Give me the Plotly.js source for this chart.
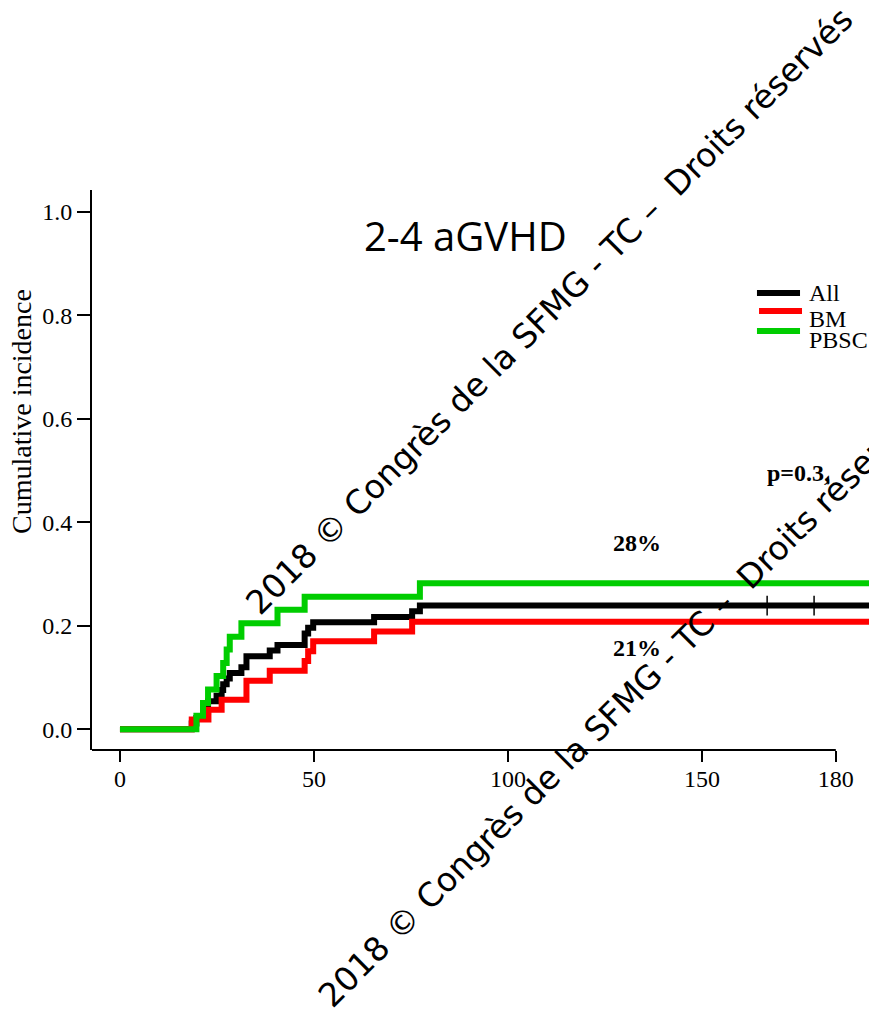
<!DOCTYPE html>
<html>
<head>
<meta charset="utf-8">
<script src="https://cdn.plot.ly/plotly-3.0.1.min.js"></script>
<style>
html, body { margin:0; padding:0; overflow:hidden; background:#fff; }
#chart { width:920px; height:1010px; }
</style>
</head>
<body>
<div id="chart"></div>
<script>
// ---- data ----
const seriesNames = ["All", "BM", "PBSC"];
const seriesColors = ["#000000", "#ff0000", "#00cd00"];

const daysAll = [0, 18.5, 19.7, 21.4, 22.7, 24.9, 26.2, 26.6, 27.5, 28.3, 31.3, 32.6, 38.6, 40.6, 47.6, 48.5, 49.8, 65.5, 75.3, 77.3, 195];
const ciAll   = [0, 0.011, 0.022, 0.033, 0.054, 0.065, 0.076, 0.087, 0.098, 0.109, 0.120, 0.141, 0.152, 0.163, 0.185, 0.196, 0.207, 0.217, 0.228, 0.239, 0.239];

const daysBM = [0, 18.5, 22.8, 26.2, 32.6, 38.6, 47.6, 48.5, 49.8, 65.5, 75.3, 195];
const ciBM   = [0, 0.019, 0.038, 0.057, 0.094, 0.113, 0.132, 0.151, 0.170, 0.189, 0.208, 0.208];

const daysPBSC = [0, 19.7, 21.4, 22.7, 24.9, 26.6, 27.5, 28.3, 31.3, 40.6, 47.6, 77.3, 195];
const ciPBSC   = [0, 0.026, 0.051, 0.077, 0.103, 0.128, 0.154, 0.179, 0.205, 0.231, 0.256, 0.282, 0.282];

const censorDaysAll = [166.8, 178.9];
const censorCiAll   = [0.239, 0.239];

const xTickVals = [0, 50, 100, 150, 184.5];
const xTickText = ["0", "50", "100", "150", "180"];
const yTickVals = [0, 0.2, 0.4, 0.6, 0.8, 1.0];
const yTickText = ["0.0", "0.2", "0.4", "0.6", "0.8", "1.0"];

const chartTitle = "2-4 aGVHD";
const yTitle = "Cumulative incidence";
const pText = "p=0.3,";
const finalLabels = ["28%", "21%"];
const watermark = "2018 © Congrès de la SFMG - TC –  Droits réservés";

// ---- traces ----
const serif = "Liberation Serif, Times New Roman, serif";
const xs = [daysAll, daysBM, daysPBSC];
const ys = [ciAll, ciBM, ciPBSC];
const traces = xs.map((x, i) => ({
  x: x, y: ys[i], type: "scatter", mode: "lines",
  line: { shape: "hv", color: seriesColors[i], width: 6 },
  name: seriesNames[i], showlegend: false, hoverinfo: "skip"
}));
traces.push({
  x: censorDaysAll, y: censorCiAll, type: "scatter", mode: "markers",
  marker: { symbol: "line-ns-open", size: 14, color: "#000", line: { color: "#000", width: 1.5 } },
  showlegend: false, hoverinfo: "skip"
});

// legend drawn manually (paper coords)
const legLineY = [0.8161, 0.7839, 0.7482];
const legTextY = [0.8161, 0.7696, 0.7321];
const shapes = [
  { type: "line", xref: "x", yref: "paper", x0: -7.21, x1: 184.5, y0: 0, y1: 0,
    line: { color: "#000", width: 2 } }
];
seriesNames.forEach((n, i) => {
  shapes.push({ type: "line", xref: "paper", yref: "paper",
    x0: i === 1 ? 0.8056 : 0.8031, x1: i === 1 ? 0.8575 : 0.8551,
    y0: legLineY[i], y1: legLineY[i],
    line: { color: seriesColors[i], width: 6 } });
});

const annotations = [
  { text: chartTitle, xref: "paper", yref: "paper", x: 0.4505, y: 0.9179,
    xanchor: "center", yanchor: "middle", showarrow: false,
    font: { family: "Open Sans, Noto Sans, sans-serif", size: 40, color: "#000" } },
  { text: yTitle, xref: "paper", yref: "paper", x: -0.0845, y: 0.6036,
    xanchor: "center", yanchor: "middle", showarrow: false, textangle: -90,
    font: { family: serif, size: 28, color: "#000" } },
  { text: "<b>" + pText + "</b>", xref: "paper", yref: "paper", x: 0.8128, y: 0.4946,
    xanchor: "left", yanchor: "middle", showarrow: false,
    font: { family: serif, size: 24, color: "#000" } },
  { text: "<b>" + finalLabels[0] + "</b>", xref: "paper", yref: "paper", x: 0.6270, y: 0.3696,
    xanchor: "left", yanchor: "middle", showarrow: false,
    font: { family: serif, size: 24, color: "#000" } },
  { text: "<b>" + finalLabels[1] + "</b>", xref: "paper", yref: "paper", x: 0.6270, y: 0.1821,
    xanchor: "left", yanchor: "middle", showarrow: false,
    font: { family: serif, size: 24, color: "#000" } },
  { text: watermark, xref: "paper", yref: "paper", x: 0.5531, y: 0.7840,
    xanchor: "center", yanchor: "middle", showarrow: false, textangle: -45,
    font: { family: "DejaVu Sans, sans-serif", size: 33, color: "#000" } },
  { text: watermark, xref: "paper", yref: "paper", x: 0.6400, y: 0.0830,
    xanchor: "center", yanchor: "middle", showarrow: false, textangle: -45,
    font: { family: "DejaVu Sans, sans-serif", size: 33, color: "#000" } }
];
seriesNames.forEach((n, i) => {
  annotations.push({ text: n, xref: "paper", yref: "paper", x: 0.8635, y: legTextY[i],
    xanchor: "left", yanchor: "middle", showarrow: false,
    font: { family: serif, size: 24, color: "#000" } });
});

const layout = {
  width: 920, height: 1010,
  margin: { l: 92, r: 0, t: 190, b: 260, pad: 0 },
  paper_bgcolor: "#fff", plot_bgcolor: "#fff",
  showlegend: false,
  xaxis: {
    range: [-7.21, 206.2], showgrid: false, zeroline: false, showline: false,
    tickmode: "array", tickvals: xTickVals, ticktext: xTickText,
    ticks: "outside", ticklen: 11, tickwidth: 2, tickcolor: "#000",
    ticklabelstandoff: -4,
    tickfont: { family: serif, size: 24, color: "#000" }
  },
  yaxis: {
    range: [-0.0400, 1.0419], showgrid: false, zeroline: false,
    showline: true, linecolor: "#000", linewidth: 2,
    tickmode: "array", tickvals: yTickVals, ticktext: yTickText,
    ticks: "outside", ticklen: 13, tickwidth: 2, tickcolor: "#000",
    tickfont: { family: serif, size: 24, color: "#000" }
  },
  shapes: shapes,
  annotations: annotations
};

Plotly.newPlot("chart", traces, layout, { staticPlot: true, displayModeBar: false });
</script>
</body>
</html>
